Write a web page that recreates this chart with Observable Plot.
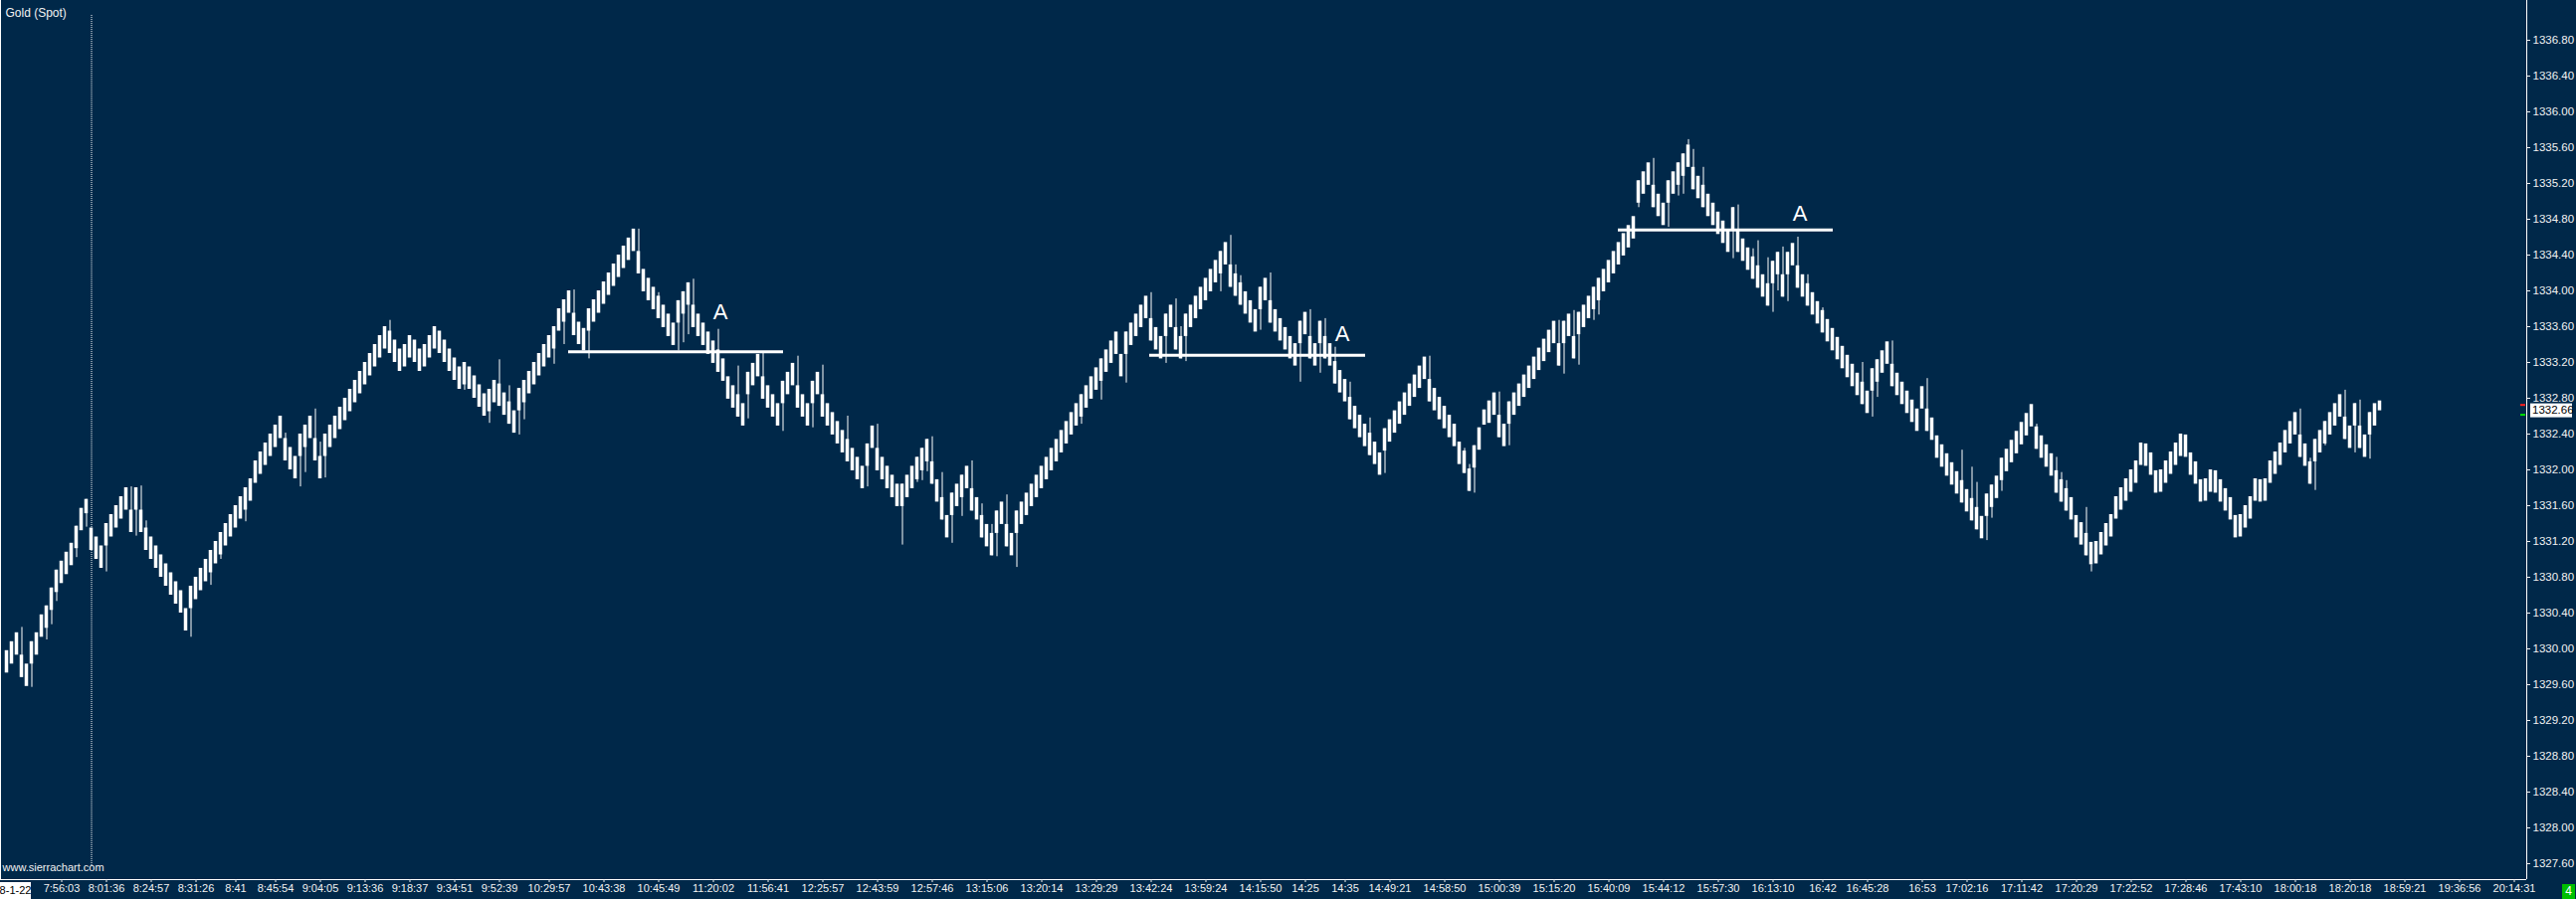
<!DOCTYPE html>
<html><head><meta charset="utf-8">
<script src="https://cdn.jsdelivr.net/npm/d3@7"></script>
<script src="https://cdn.jsdelivr.net/npm/@observablehq/plot@0.6"></script>
<style>
html,body{margin:0;padding:0;background:#002849;}
#chart{width:2589px;height:904px;overflow:hidden;}
</style></head>
<body><div id="chart"></div>
<script>
// ---- Data ----
const closes = [
1329.98,1330.08,1330.18,1329.68,1329.58,1330.08,1330.18,1330.38,1330.48,1330.68,
1330.88,1330.98,1331.08,1331.18,1331.37,1331.57,1331.67,1331.10,1331.00,1330.90,
1331.40,1331.50,1331.60,1331.70,1331.80,1331.30,1331.80,1331.30,1331.10,1331.00,
1330.90,1330.80,1330.70,1330.60,1330.50,1330.40,1330.20,1330.70,1330.80,1330.90,
1331.00,1331.10,1331.20,1331.30,1331.40,1331.50,1331.60,1331.70,1331.80,1331.90,
1332.10,1332.20,1332.30,1332.40,1332.50,1332.60,1332.10,1332.00,1331.90,1332.40,
1332.50,1332.60,1332.10,1331.90,1332.40,1332.50,1332.60,1332.70,1332.80,1332.90,
1333.00,1333.10,1333.20,1333.30,1333.40,1333.50,1333.60,1333.30,1333.20,1333.10,
1333.40,1333.50,1333.20,1333.10,1333.40,1333.50,1333.60,1333.30,1333.20,1333.10,
1333.00,1332.90,1333.20,1332.90,1332.80,1332.70,1332.60,1332.90,1333.00,1332.71,
1332.61,1332.51,1332.41,1332.91,1333.00,1333.10,1333.20,1333.30,1333.40,1333.50,
1333.60,1333.80,1333.90,1334.00,1333.50,1333.40,1333.33,1333.80,1333.90,1334.00,
1334.10,1334.20,1334.30,1334.40,1334.50,1334.59,1334.69,1334.19,1333.99,1333.89,
1333.79,1333.69,1333.59,1333.49,1333.39,1333.89,1333.99,1334.09,1333.59,1333.49,
1333.39,1333.29,1333.19,1333.09,1332.99,1332.79,1332.69,1332.59,1332.49,1333.09,
1333.19,1333.29,1332.79,1332.69,1332.59,1332.49,1332.99,1333.09,1333.19,1332.69,
1332.59,1332.49,1332.99,1333.09,1332.59,1332.49,1332.39,1332.29,1332.19,1332.09,
1331.99,1331.89,1331.79,1332.29,1332.49,1331.99,1331.89,1331.79,1331.69,1331.59,
1331.84,1331.94,1332.04,1332.14,1332.24,1332.34,1331.84,1331.64,1331.44,1331.24,
1331.74,1331.84,1331.94,1332.04,1331.54,1331.44,1331.24,1331.14,1331.04,1331.54,
1331.64,1331.14,1331.04,1331.54,1331.64,1331.74,1331.84,1331.94,1332.04,1332.14,
1332.24,1332.34,1332.44,1332.54,1332.64,1332.74,1332.84,1332.94,1333.04,1333.14,
1333.24,1333.34,1333.44,1333.54,1333.04,1333.54,1333.64,1333.74,1333.84,1333.94,
1333.44,1333.34,1333.24,1333.74,1333.84,1333.34,1333.24,1333.74,1333.84,1333.94,
1334.04,1334.14,1334.24,1334.34,1334.44,1334.54,1334.04,1333.94,1333.84,1333.74,
1333.64,1333.54,1334.04,1334.14,1333.64,1333.54,1333.44,1333.34,1333.24,1333.16,
1333.66,1333.76,1333.24,1333.16,1333.66,1333.24,1333.16,1332.96,1332.86,1332.76,
1332.56,1332.46,1332.36,1332.26,1332.16,1332.06,1331.94,1332.46,1332.56,1332.66,
1332.76,1332.86,1332.96,1333.06,1333.16,1333.26,1332.76,1332.66,1332.56,1332.46,
1332.36,1332.26,1332.06,1331.96,1331.76,1332.27,1332.47,1332.67,1332.77,1332.86,
1332.36,1332.26,1332.76,1332.86,1332.96,1333.06,1333.16,1333.26,1333.36,1333.46,
1333.56,1333.66,1333.16,1333.66,1333.74,1333.24,1333.76,1333.84,1333.94,1334.04,
1334.14,1334.24,1334.34,1334.44,1334.54,1334.64,1334.73,1334.83,1335.23,1335.33,
1335.43,1334.93,1334.83,1334.73,1335.23,1335.33,1335.43,1335.53,1335.63,1335.13,
1335.03,1334.93,1334.83,1334.73,1334.63,1334.53,1334.43,1334.93,1334.43,1334.33,
1334.23,1334.13,1334.03,1333.93,1333.83,1334.33,1334.43,1333.93,1334.43,1334.53,
1334.03,1333.93,1333.83,1333.73,1333.63,1333.53,1333.43,1333.33,1333.23,1333.13,
1333.03,1332.93,1332.83,1332.73,1332.63,1333.13,1333.23,1333.33,1333.43,1332.93,
1332.83,1332.73,1332.63,1332.53,1332.43,1332.93,1332.43,1332.33,1332.13,1332.03,
1331.93,1331.83,1331.73,1331.63,1331.53,1331.43,1331.33,1331.23,1331.73,1331.83,
1331.93,1332.13,1332.23,1332.33,1332.43,1332.53,1332.63,1332.73,1332.23,1332.13,
1332.03,1331.93,1331.74,1331.64,1331.54,1331.44,1331.24,1331.16,1331.04,1330.94,
1331.20,1331.30,1331.40,1331.50,1331.70,1331.80,1331.90,1332.00,1332.10,1332.30,
1332.04,1331.94,1331.74,1332.00,1332.10,1332.20,1332.30,1332.40,1332.14,1331.94,
1331.84,1331.64,1331.90,1332.00,1331.74,1331.64,1331.54,1331.44,1331.24,1331.50,
1331.60,1331.70,1331.90,1331.64,1331.90,1332.10,1332.20,1332.30,1332.44,1332.54,
1332.64,1332.14,1332.04,1331.84,1332.34,1332.44,1332.54,1332.64,1332.74,1332.84,
1332.34,1332.24,1332.74,1332.24,1332.14,1332.64,1332.74,1332.66
];
const BODY = 0.25;                       // brick body height
const shortBodyBars  = [16, 297, 477];
const shortBodySizes = [0.16, 0.17, 0.11];

const wickBars = [3,5,8,9,10,14,16,20,25,26,27,28,37,41,43,48,56,59,60,62,63,64,77,92,97,99,101,103,104,110,112,114,117,127,131,135,136,137,138,143,147,149,152,156,159,162,164,169,173,175,180,183,184,185,186,188,190,192,194,196,198,199,201,203,216,220,225,230,233,235,236,237,244,246,247,248,252,254,260,262,264,265,267,270,274,277,286,293,294,295,300,302,312,313,315,316,319,320,328,331,334,336,337,338,339,341,347,348,351,352,354,355,356,357,358,360,362,365,373,375,376,379,386,393,395,396,398,399,401,408,412,413,414,418,419,461,463,464,466,470,472,473,475];
const wickPrices = [1330.24,1329.57,1330.10,1330.27,1330.53,1331.02,1331.36,1330.86,1331.81,1331.26,1331.82,1331.43,1330.13,1330.71,1331.00,1331.42,1332.41,1331.81,1331.97,1332.68,1332.31,1331.91,1333.67,1332.89,1332.52,1333.23,1332.94,1332.39,1332.56,1333.18,1333.40,1334.01,1333.24,1334.69,1333.98,1333.33,1333.42,1333.51,1334.13,1333.57,1333.16,1332.57,1333.30,1332.43,1333.27,1332.47,1333.17,1332.60,1331.81,1332.51,1331.16,1331.86,1331.88,1331.98,1332.37,1331.97,1331.18,1331.48,1332.10,1331.62,1331.39,1331.03,1331.72,1330.91,1332.51,1332.78,1332.97,1333.98,1333.19,1333.91,1333.60,1333.21,1333.99,1334.62,1334.29,1334.17,1333.56,1334.20,1332.98,1333.79,1333.08,1333.69,1333.37,1332.98,1332.58,1331.96,1333.27,1332.24,1332.06,1331.74,1332.87,1332.27,1333.67,1333.07,1333.78,1333.17,1333.67,1333.73,1334.93,1335.48,1334.71,1335.06,1335.08,1335.69,1335.58,1335.38,1334.36,1334.96,1334.47,1334.56,1334.37,1333.76,1334.00,1334.49,1333.88,1334.60,1334.18,1333.81,1333.20,1332.59,1332.81,1333.44,1333.02,1332.22,1332.03,1331.86,1331.21,1331.46,1331.76,1332.51,1332.14,1331.97,1331.88,1331.58,1330.86,1332.68,1332.13,1331.77,1332.27,1332.89,1332.19,1332.78,1332.12];

const tickBars = [11,20,29,38,46,54,63,72,81,90,99,109,120,131,142,153,164,175,186,197,208,219,230,241,252,261,269,278,289,300,311,322,333,344,355,365,374,385,394,405,416,427,438,449,460,471,482,493,504];
const tickLabels = ["7:56:03","8:01:36","8:24:57","8:31:26","8:41","8:45:54","9:04:05","9:13:36","9:18:37","9:34:51","9:52:39","10:29:57","10:43:38","10:45:49","11:20:02","11:56:41","12:25:57","12:43:59","12:57:46","13:15:06","13:20:14","13:29:29","13:42:24","13:59:24","14:15:50","14:25","14:35","14:49:21","14:58:50","15:00:39","15:15:20","15:40:09","15:44:12","15:57:30","16:13:10","16:42","16:45:28","16:53","17:02:16","17:11:42","17:20:29","17:22:52","17:28:46","17:43:10","18:00:18","18:20:18","18:59:21","19:36:56","20:14:31"];
const yTicks = [1327.6,1328.0,1328.4,1328.8,1329.2,1329.6,1330.0,1330.4,1330.8,1331.2,1331.6,1332.0,1332.4,1332.8,1333.2,1333.6,1334.0,1334.4,1334.8,1335.2,1335.6,1336.0,1336.4,1336.8];

const levelStartBar = [112.9, 229.7, 323.9];
const levelEndBar   = [156.1, 273.1, 367.1];
const levelPrice    = [1333.32, 1333.28, 1334.68];
const labelBar      = [143.4, 268.4, 360.4];
const labelPrice    = [1333.76, 1333.52, 1334.86];
const labelText     = ["A", "A", "A"];

const sessionStartBar = 17;
const sessionDate = "8-1-22";
const lastPrice = 1332.66;
const askPrice = 1332.72, bidPrice = 1332.61;
const chartTitle = "Gold (Spot)";
const watermark = "www.sierrachart.com";
const countdown = "4";

// ---- Build tables ----
const bars = closes.map((c, i) => {
  const prev = i === 0 ? c - 0.1 : closes[i - 1];
  const dir = c >= prev ? 1 : -1;
  const k = shortBodyBars.indexOf(i);
  const size = k >= 0 ? shortBodySizes[k] : BODY;
  return {i, close: c, open: c - dir * size};
});
const wicks = wickBars.map((b, k) => ({i: b, from: closes[b], to: wickPrices[k]}));
const levels = levelPrice.map((p, k) => ({x1: levelStartBar[k], x2: levelEndBar[k], y: p}));
const labels = labelText.map((t, k) => ({x: labelBar[k], y: labelPrice[k], t}));
const labelMap = new Map(tickBars.map((b, k) => [b, tickLabels[k]]));

const BG = "#002849";
const FG = "#f2f2f2";
const FONT = "'Liberation Sans', Arial, sans-serif";
const yMin = 1327.4222, yMax = 1337.2444;
const xMin = -1.3, xMax = 506.5;

const plot = Plot.plot({
  width: 2589, height: 904,
  marginLeft: 0, marginRight: 50, marginTop: 0, marginBottom: 20,
  style: {background: BG, color: FG, fontFamily: FONT, fontSize: "11px", overflow: "visible"},
  x: {domain: [xMin, xMax], axis: null},
  y: {domain: [yMin, yMax], axis: null},
  marks: [
    Plot.ruleX([sessionStartBar], {y1: 1337.078, y2: 1327.578, stroke: "#ffffff", strokeWidth: 1, strokeDasharray: "1,1"}),
    Plot.ruleX(wicks, {x: "i", y1: "from", y2: "to", stroke: "#ffffff", strokeWidth: 1}),
    Plot.rect(bars, {x1: d => d.i - 0.35, x2: d => d.i + 0.35, y1: "open", y2: "close", fill: "#ffffff"}),
    Plot.ruleY(levels, {x1: "x1", x2: "x2", y: "y", stroke: "#ffffff", strokeWidth: 3}),
    Plot.text(labels, {x: "x", y: "y", text: "t", fill: "#ffffff", fontSize: 22, fontFamily: FONT}),
    Plot.ruleX([xMin], {stroke: "#ffffff"}),
    Plot.ruleX([xMax], {stroke: "#ffffff"}),
    Plot.ruleY([yMin], {stroke: "#ffffff"}),
    Plot.axisY({anchor: "right", ticks: yTicks, tickFormat: d => d.toFixed(2), tickSize: 3, tickPadding: 3, label: null, fontSize: 11.5}),
    Plot.axisX({anchor: "bottom", ticks: tickBars, tickFormat: d => labelMap.get(d), tickSize: 3, tickPadding: 2, label: null, fontSize: 11}),
    Plot.text([chartTitle], {frameAnchor: "top-left", dx: 5, dy: 8, textAnchor: "start", fontSize: 12, fill: FG}),
    Plot.text([watermark], {frameAnchor: "bottom-left", dx: 2, dy: -9, textAnchor: "start", fontSize: 11, fill: FG})
  ]
});

const svg = d3.select(plot);
const ys = plot.scale("y");
// date box at the start of the time axis
svg.append("rect").attr("x", 0).attr("y", 887).attr("width", 31).attr("height", 17).attr("fill", "#ffffff");
svg.append("text").attr("x", 15.5).attr("y", 896).attr("text-anchor", "middle").attr("dominant-baseline", "middle")
  .attr("font-family", FONT).attr("font-size", 11).attr("fill", "#000000").text(sessionDate);
// last price box
const yl = ys.apply(lastPrice);
svg.append("rect").attr("x", 2543).attr("y", yl - 7).attr("width", 42).attr("height", 14).attr("fill", "#ffffff");
svg.append("text").attr("x", 2545).attr("y", yl).attr("text-anchor", "start").attr("dominant-baseline", "middle")
  .attr("font-family", FONT).attr("font-size", 11.5).attr("fill", "#000000").text(lastPrice.toFixed(2));
// ask / bid markers
svg.append("rect").attr("x", 2533).attr("y", ys.apply(askPrice) - 1).attr("width", 5).attr("height", 2).attr("fill", "#ff2020");
svg.append("rect").attr("x", 2533).attr("y", ys.apply(bidPrice) - 1).attr("width", 5).attr("height", 2).attr("fill", "#00e000");
// countdown box
svg.append("rect").attr("x", 2575).attr("y", 889).attr("width", 13).attr("height", 15).attr("fill", "#00c000");
svg.append("text").attr("x", 2581.5).attr("y", 897).attr("text-anchor", "middle").attr("dominant-baseline", "middle")
  .attr("font-family", FONT).attr("font-size", 12).attr("fill", "#ffffff").text(countdown);

document.getElementById("chart").appendChild(plot);
</script>
</body></html>
